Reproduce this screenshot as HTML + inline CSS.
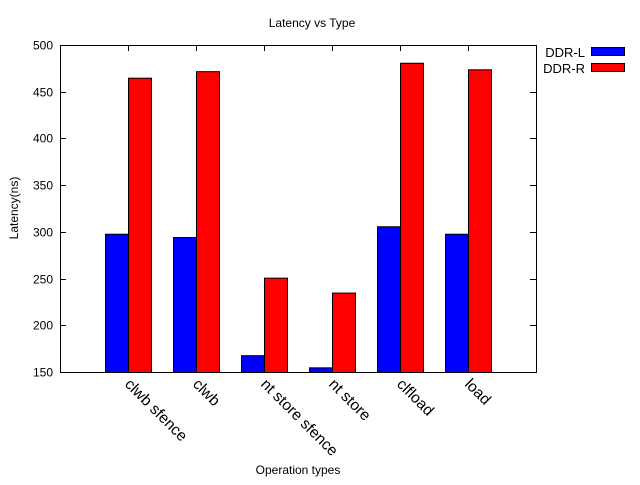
<!DOCTYPE html>
<html><head><meta charset="utf-8"><style>
body{margin:0;background:#fff}
svg text{font-family:"Liberation Sans",sans-serif;fill:#000}
</style></head><body>
<svg id="chart" width="640" height="480" xmlns="http://www.w3.org/2000/svg">
<rect width="640" height="480" fill="#fff"/>
<text x="312" y="27" font-size="12" text-anchor="middle">Latency vs Type</text>
<text x="298" y="474" font-size="12" text-anchor="middle">Operation types</text>
<text transform="translate(18,208) rotate(-90)" font-size="12" text-anchor="middle">Latency(ns)</text>
<g id="grid"></g>
<g id="bars"></g>
<rect x="60.5" y="45.5" width="476" height="327" fill="none" stroke="#000"/>
<g>
<g>
<text x="585" y="57" font-size="13" text-anchor="end">DDR-L</text>
<rect x="591.5" y="47.5" width="33" height="8" fill="#0000ff" stroke="#000"/></g>
<g>
<text x="585" y="73" font-size="13" text-anchor="end">DDR-R</text>
<rect x="591.5" y="63.5" width="33" height="8" fill="#ff0000" stroke="#000"/></g>
</g>
</svg>
<script>
const categories=["clwb sfence","clwb","nt store sfence","nt store","clfload","load"];
const ddrL=[298,294.5,168,155,306,298];
const ddrR=[465,472,251,235,481,474];
const yTicks=[150,200,250,300,350,400,450,500];
const NS="http://www.w3.org/2000/svg";
const x0=60,x1=536,y0=372,y1=45;
const yMin=150,yMax=500;
function ys(v){return y0-(v-yMin)/(yMax-yMin)*(y0-y1);}
function xs(i){return x0+(i+1)*(x1-x0)/(categories.length+1);}
const barW=23;
const g=document.getElementById('grid'),b=document.getElementById('bars');
function mk(t,a,p){const e=document.createElementNS(NS,t);for(const k in a)e.setAttribute(k,a[k]);p.appendChild(e);return e;}
yTicks.forEach(v=>{
 const y=Math.round(ys(v))+0.5;
 const t=mk('text',{x:x0-7,y:y+4,'font-size':12,'text-anchor':'end'},g);
 t.textContent=v;
 
 
 mk('path',{d:`M${x0} ${y}h6M${x1} ${y}h-6`,stroke:'#000'},g);
});
categories.forEach((c,i)=>{
 const cx=xs(i);
 const rl=mk('rect',{x:cx-barW+0.5,y:ys(ddrL[i])+0.5,width:barW,height:y0-ys(ddrL[i]),fill:'#0000ff',stroke:'#000'},b);
 
 
 const rr=mk('rect',{x:cx+0.5,y:ys(ddrR[i])+0.5,width:barW,height:y0-ys(ddrR[i]),fill:'#ff0000',stroke:'#000'},b);
 
 
 mk('path',{d:`M${Math.round(cx)+0.5} ${y0}v-6M${Math.round(cx)+0.5} ${y1}v6`,stroke:'#000'},g);
 const t=mk('text',{transform:`translate(${cx-4},${y0+13}) rotate(45)`,'font-size':15.5},g);
 t.textContent=c;
 
 
});
</script>
</body></html>
